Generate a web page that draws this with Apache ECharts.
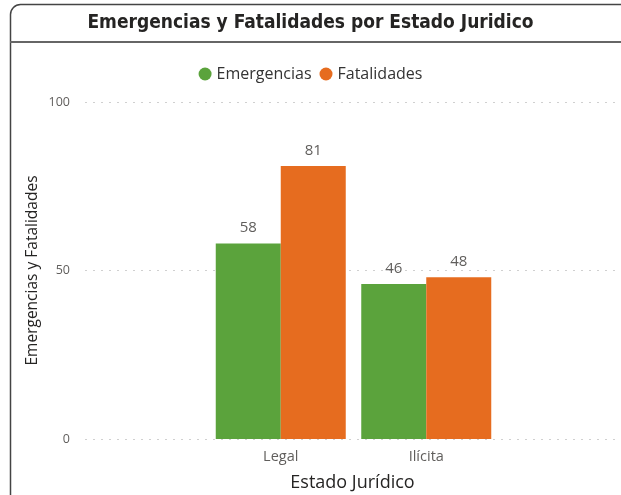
<!DOCTYPE html>
<html>
<head>
<meta charset="utf-8">
<script src="https://cdn.jsdelivr.net/npm/echarts@6/dist/echarts.min.js"></script>
<style>
  html, body { margin: 0; padding: 0; background: #fff; }
  #chart { width: 621px; height: 495px; }
</style>
</head>
<body>
<div id="chart"></div>
<script>
const categories = ['Legal', 'Ilícita'];
const emergencias = [58, 46];
const fatalidades = [81, 48];
const yTicks = { min: 0, max: 100, interval: 50 };

const chart = echarts.init(document.getElementById('chart'), null, { renderer: 'canvas' });

const font = '"Open Sans", "Noto Sans", sans-serif';

chart.setOption({
  animation: false,
  textStyle: { fontFamily: font },
  graphic: [
    // card outline
    {
      type: 'rect',
      shape: { x: 10.5, y: 4.5, width: 700, height: 600, r: 10 },
      style: { fill: 'none', stroke: '#444', lineWidth: 1.5 },
      z: -1
    },
    // title separator
    {
      type: 'line',
      shape: { x1: 10, y1: 42, x2: 621, y2: 42 },
      style: { stroke: '#666', lineWidth: 2 }
    },
    {
      type: 'text',
      left: 'center',
      top: 14,
      style: {
        text: 'Emergencias y Fatalidades por Estado Juridico',
        font: 'bold 19px "DejaVu Sans Condensed", sans-serif',
        fill: '#252423'
      }
    }
  ],
  legend: {
    top: 61,
    left: 'center',
    icon: 'circle',
    itemWidth: 13,
    itemHeight: 13,
    itemGap: 8,
    textStyle: { fontSize: 16, color: '#333', fontFamily: font },
    data: ['Emergencias', 'Fatalidades']
  },
  grid: [
    { left: 85, right: 1, top: 102, bottom: 56, outerBoundsMode: 'none' },
    { left: 208, width: 291, top: 102, bottom: 56, outerBoundsMode: 'none' }
  ],
  xAxis: [
    {
      type: 'value',
      gridIndex: 0,
      min: 0, max: 1,
      axisLine: { show: false },
      axisTick: { show: false },
      axisLabel: { show: false },
      splitLine: { show: false },
      name: 'Estado Jurídico',
      nameLocation: 'middle',
      nameGap: 35,
      nameTextStyle: { fontSize: 18, color: '#252423', fontFamily: font }
    },
    {
      type: 'category',
      gridIndex: 1,
      data: categories,
      axisLine: { show: false },
      axisTick: { show: false },
      axisLabel: { fontSize: 14.5, color: '#605e5c', margin: 10, fontFamily: font }
    }
  ],
  yAxis: [
    {
      type: 'value',
      gridIndex: 0,
      min: yTicks.min, max: yTicks.max, interval: yTicks.interval,
      axisLine: { show: false },
      axisTick: { show: false },
      axisLabel: { fontSize: 12.5, color: '#605e5c', margin: 15, fontFamily: font },
      splitLine: { lineStyle: { type: [2, 6], color: '#d0d0d0', width: 1 } },
      name: 'Emergencias y Fatalidades',
      nameLocation: 'middle',
      nameGap: 44,
      nameMoveOverlap: false,
      nameTextStyle: { fontSize: 15.5, color: '#252423', fontFamily: font }
    },
    {
      type: 'value',
      gridIndex: 1,
      min: yTicks.min, max: yTicks.max, interval: yTicks.interval,
      show: false,
      splitLine: { show: false }
    }
  ],
  series: [
    {
      name: 'Emergencias',
      type: 'bar',
      xAxisIndex: 1, yAxisIndex: 1,
      data: emergencias,
      barWidth: 65,
      barGap: '0%',
      itemStyle: { color: '#5ba33c' },
      label: { show: true, position: 'top', distance: 8, fontSize: 15, color: '#605e5c', fontFamily: font }
    },
    {
      name: 'Fatalidades',
      type: 'bar',
      xAxisIndex: 1, yAxisIndex: 1,
      data: fatalidades,
      barWidth: 65,
      barGap: '0%',
      itemStyle: { color: '#e66c1f' },
      label: { show: true, position: 'top', distance: 8, fontSize: 15, color: '#605e5c', fontFamily: font }
    }
  ]
});
</script>
</body>
</html>
